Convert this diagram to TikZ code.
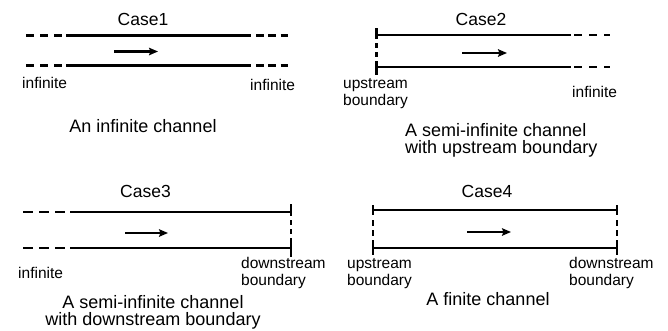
\documentclass[tikz,border=0pt]{standalone}
\usepackage{fontspec}
\setmainfont{Liberation Sans}
\usetikzlibrary{arrows.meta}
\begin{document}
\begin{tikzpicture}[x=1pt,y=-1pt,
  chan/.style={line width=2.5pt},
  dsh/.style={line width=2.5pt},
  btick/.style={line width=2.5pt},
  bdash/.style={line width=2.5pt, dash pattern=on 4.5pt off 4.5pt},
  flow/.style={line width=2.2pt, -{Stealth[length=9pt,width=7.5pt,inset=1.5pt]}},
  lbl/.style={font=\fontsize{15.5}{17}\selectfont, inner sep=0pt, anchor=base west, align=left},
  ttl/.style={font=\fontsize{17.5}{20}\selectfont, inner sep=0pt, anchor=base},
  captxt/.style={font=\fontsize{18}{17}\selectfont, inner sep=0pt, anchor=base}]
\useasboundingbox (0,0) rectangle (668,330);

% ---------------- Case 1 ----------------
\node[ttl] (t1) at (143,25) {Case1};
\coordinate (c1tl) at (26,35.5);  \coordinate (c1ts) at (66,35.5);
\coordinate (c1te) at (251,35.5); \coordinate (c1tr) at (288,35.5);
\coordinate (c1bl) at (26,65.5);  \coordinate (c1bs) at (66,65.5);
\coordinate (c1be) at (251,65.5); \coordinate (c1br) at (288,65.5);
\draw[dsh, dash pattern=on 8pt off 6pt] (c1tl) -- ([xshift=-4pt]c1ts);
\draw[dsh, dash pattern=on 8pt off 6pt] (c1bl) -- ([xshift=-4pt]c1bs);
\draw[chan] (c1ts) -- (c1te);
\draw[chan] (c1bs) -- (c1be);
\draw[dsh, dash pattern=on 7.5pt off 4.8pt] ([xshift=5pt]c1te) -- (c1tr);
\draw[dsh, dash pattern=on 7.5pt off 4.8pt] ([xshift=5pt]c1be) -- (c1br);
\coordinate (f1a) at (114,51.5); \coordinate (f1b) at (158,51.5);
\draw[flow] (f1a) -- (f1b);
\node[lbl] (l1a) at (22,88) {infinite};
\node[lbl] (l1b) at (250,90) {infinite};
\node[captxt] (k1) at (143,132) {An infinite channel};

% ---------------- Case 2 ----------------
\node[ttl] (t2) at (481,25) {Case2};
\coordinate (c2tl) at (376.5,35); \coordinate (c2te) at (571,35); \coordinate (c2tr) at (610,35);
\coordinate (c2bl) at (376.5,67); \coordinate (c2be) at (571,67); \coordinate (c2br) at (610,67);
\draw[chan] (c2tl) -- (c2te);
\draw[chan] (c2bl) -- (c2be);
\draw[dsh, dash pattern=on 8pt off 7pt] ([xshift=3pt]c2te) -- (c2tr);
\draw[dsh, dash pattern=on 8pt off 7pt] ([xshift=3pt]c2be) -- (c2br);
\draw[btick] ([yshift=7pt]c2tl) -- ([yshift=-4pt]c2tl);
\draw[btick] ([yshift=5pt]c2bl) -- ([yshift=-8pt]c2bl);
\draw[bdash] ([yshift=-8pt]c2tl) -- ([yshift=5pt]c2bl);
\coordinate (f2a) at (462,53); \coordinate (f2b) at (507,53);
\draw[flow] (f2a) -- (f2b);
\node[lbl] (l2a) at (343,105) {upstream\\boundary};
\node[lbl] (l2b) at (572,97) {infinite};
\node[captxt, anchor=base west, align=left] (k2) at (405,153) {A semi-infinite channel\\with upstream boundary};

% ---------------- Case 3 ----------------
\node[ttl] (t3) at (145.5,197) {Case3};
\coordinate (c3tl) at (23,212);  \coordinate (c3ts) at (70,212); \coordinate (c3tr) at (291,212);
\coordinate (c3bl) at (23,248);  \coordinate (c3bs) at (70,248); \coordinate (c3br) at (291,248);
\draw[dsh, dash pattern=on 10pt off 6pt] (c3tl) -- ([xshift=-5pt]c3ts);
\draw[dsh, dash pattern=on 10pt off 6pt] (c3bl) -- ([xshift=-5pt]c3bs);
\draw[chan] (c3ts) -- (c3tr);
\draw[chan] (c3bs) -- (c3br);
\draw[btick] ([yshift=8pt]c3tr) -- ([yshift=-4pt]c3tr);
\draw[btick] ([yshift=7pt]c3br) -- ([yshift=-9pt]c3br);
\draw[bdash] ([yshift=-8pt]c3tr) -- ([yshift=6pt]c3br);
\coordinate (f3a) at (125,233); \coordinate (f3b) at (168,233);
\draw[flow] (f3a) -- (f3b);
\node[lbl] (l3a) at (18,278) {infinite};
\node[lbl] (l3b) at (241,285) {downstream\\boundary};
\node[captxt, align=center] (k3) at (153,325) {A semi-infinite channel\\with downstream boundary};

% ---------------- Case 4 ----------------
\node[ttl] (t4) at (487,197) {Case4};
\coordinate (c4tl) at (373,210); \coordinate (c4tr) at (617,210);
\coordinate (c4bl) at (373,248); \coordinate (c4br) at (617,248);
\draw[chan] (c4tl) -- (c4tr);
\draw[chan] (c4bl) -- (c4br);
\draw[btick] ([yshift=5pt]c4tl) -- ([yshift=-5pt]c4tl);
\draw[btick] ([yshift=5pt]c4bl) -- ([yshift=-7pt]c4bl);
\draw[bdash, dash pattern=on 6pt off 4pt] ([yshift=-10pt]c4tl) -- ([yshift=5pt]c4bl);
\draw[btick] ([yshift=5pt]c4tr) -- ([yshift=-5pt]c4tr);
\draw[btick] ([yshift=5pt]c4br) -- ([yshift=-7pt]c4br);
\draw[bdash, dash pattern=on 6pt off 4pt] ([yshift=-10pt]c4tr) -- ([yshift=5pt]c4br);
\coordinate (f4a) at (467,232); \coordinate (f4b) at (511,232);
\draw[flow] (f4a) -- (f4b);
\node[lbl] (l4a) at (347,285) {upstream\\boundary};
\node[lbl] (l4b) at (569,285) {downstream\\boundary};
\node[captxt] (k4) at (488,305) {A finite channel};
\end{tikzpicture}
\end{document}
